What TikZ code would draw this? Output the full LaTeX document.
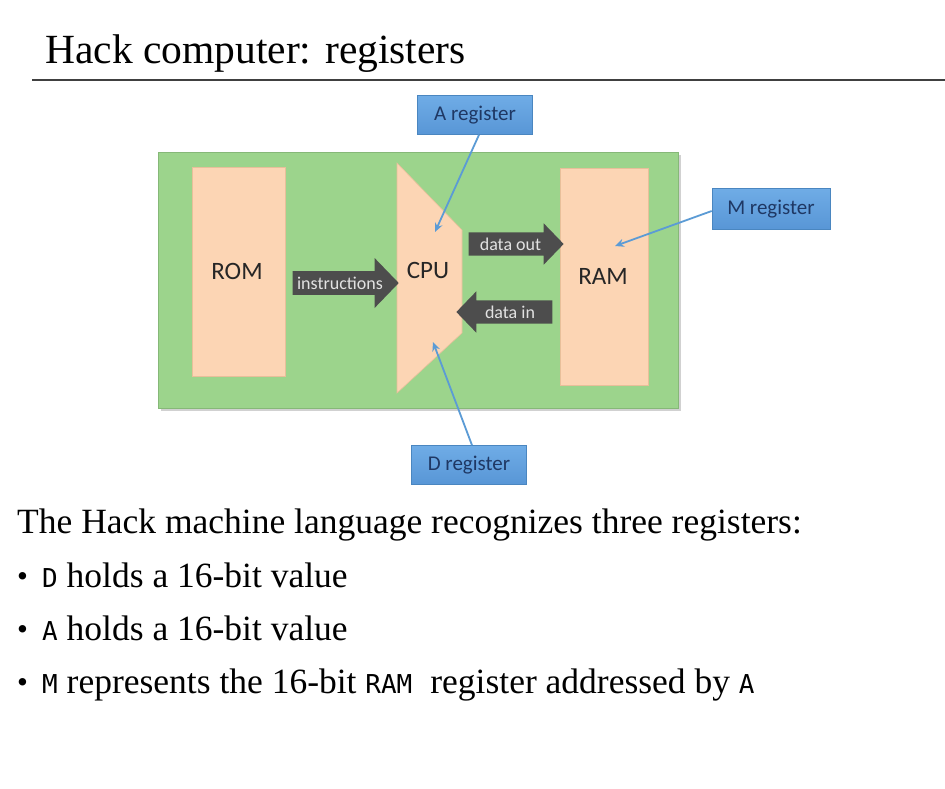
\documentclass[tikz,border=0pt]{standalone}
\usepackage{fontspec}
\setmainfont{Liberation Serif}
\newfontfamily\diagfont{Carlito}
\newfontfamily\codefont{DejaVu Sans Mono}
\usetikzlibrary{shapes.arrows,arrows.meta}

\definecolor{boardgreen}{HTML}{9CD48C}
\definecolor{boardedge}{HTML}{86B878}
\definecolor{chippeach}{HTML}{FCD5B4}
\definecolor{chipedge}{HTML}{E8BF9A}
\definecolor{busgray}{HTML}{4D4D4D}
\definecolor{bustext}{HTML}{E2E2E2}
\definecolor{tagblue}{HTML}{5896D6}
\definecolor{tagtop}{HTML}{6FACE6}
\definecolor{tagedge}{HTML}{4A86C0}
\definecolor{tagtext}{HTML}{1F3864}
\definecolor{pointer}{HTML}{5B9BD5}

\newcommand{\code}[1]{{\codefont\fontsize{26}{28}\selectfont #1}}
\newcommand{\dotmark}{\makebox[25pt][l]{\raisebox{0.5pt}{\fontsize{31}{31}\selectfont\textbullet}}}

\tikzset{
  chip/.style={fill=chippeach, draw=chipedge, line width=0.6pt},
  chiplabel/.style={font=\diagfont\fontsize{25}{28}\selectfont, text=black!85, inner sep=0pt},
  bus/.style={single arrow, fill=busgray, draw=none, text=bustext,
    font=\diagfont\fontsize{18}{20}\selectfont, inner xsep=1pt, inner ysep=5.5pt,
    text height=12pt, text depth=0pt, single arrow tip angle=92, anchor=center},
  tag/.style={draw=tagedge, line width=0.6pt, top color=tagtop, bottom color=tagblue,
    text=tagtext, font=\diagfont\fontsize{21}{24}\selectfont,
    minimum width=115pt, minimum height=39pt, inner sep=0pt},
  pointerline/.style={draw=pointer, line width=1.8pt, -{Stealth[length=9pt,width=8pt]}},
  bodytext/.style={font=\fontsize{35.5}{40}\selectfont, anchor=base west, inner sep=0pt},
}

\begin{document}
\begin{tikzpicture}[x=1pt, y=-1pt]
\useasboundingbox (0,0) rectangle (945,788);
\fill[white] (0,0) rectangle (945,788);

% heading and rule
\node[font=\fontsize{41.5}{46}\selectfont, anchor=base west, inner sep=0pt] (title) at (45,63) {Hack computer: registers};
\draw[line width=2pt, black!75] (32,80) -- (945,80);

% board with soft shadow
\fill[black!18] (161,155) rectangle (681,411);
\node[fill=boardgreen, draw=boardedge, line width=0.8pt, minimum width=520pt, minimum height=256pt,
  inner sep=0pt, anchor=north west] (board) at (158,152) {};

% memories
\node[chip, minimum width=93pt, minimum height=209pt, inner sep=0pt, anchor=north west] (rom) at (192,167) {};
\node[chiplabel] (romlabel) at (237,271) {ROM};
\node[chip, minimum width=88pt, minimum height=217pt, inner sep=0pt, anchor=north west] (ram) at (560,168) {};
\node[chiplabel] (ramlabel) at (603,276) {RAM};

% processor outline
\draw[chip] (397,163) -- (462,230) -- (462,333) -- (397,393) -- cycle;
\node[chiplabel] (cpu) at (428,270) {CPU};
\coordinate (cpuA) at (435,232);
\coordinate (cpuD) at (433,342);
\coordinate (ramM) at (615,246);

% data buses
\node[bus, minimum height=106pt, minimum width=50pt, single arrow head extend=13pt] (instr) at (340,283) {instructions};
\node[bus, minimum height=95pt, minimum width=40pt, single arrow head extend=9pt] (dout) at (510.5,244) {data out};
\node[bus, minimum height=96pt, minimum width=40pt, single arrow head extend=9pt, shape border rotate=180] (din) at (510,312) {data in};

% register tags
\node[tag] (areg) at (475,115) {A register};
\node[tag] (dreg) at (469,465) {D register};
\node[tag, minimum width=118pt, minimum height=41pt] (mreg) at (771,209) {M register};

\draw[pointerline] (areg.south) ++(4,0) coordinate (aStart) -- (cpuA);
\draw[pointerline] (dreg.north) ++(3,0) coordinate (dStart) -- (cpuD);
\draw[pointerline] (mreg.west) ++(0,2) coordinate (mStart) -- (ramM);

% explanatory text
\node[bodytext] (intro) at (17,533) {The Hack machine language recognizes three registers:};
\node[bodytext] (b1) at (17,587) {\dotmark\code{D} holds a 16-bit value};
\node[bodytext] (b2) at (17,640) {\dotmark\code{A} holds a 16-bit value};
\node[bodytext] (b3) at (17,693) {\dotmark\code{M} represents the 16-bit \code{RAM}\hspace{18pt}register addressed by \code{A}};
\end{tikzpicture}
\end{document}
